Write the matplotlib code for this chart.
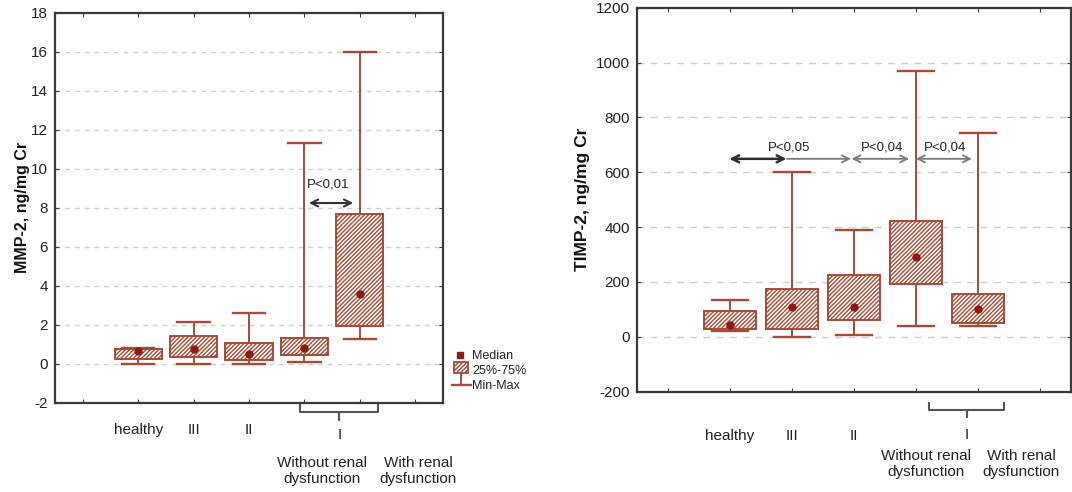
import matplotlib
matplotlib.use("Agg")
import matplotlib.pyplot as plt
from matplotlib.patches import Rectangle
from matplotlib.lines import Line2D
import matplotlib.transforms as mtransforms

plt.rcParams['font.family'] = ['Liberation Sans', 'DejaVu Sans']
plt.rcParams['hatch.linewidth'] = 1.0
plt.rcParams['axes.unicode_minus'] = False

# ---- data -------------------------------------------------------------
groups = ['healthy', 'III', 'II', 'Without renal\ndysfunction', 'With renal\ndysfunction']
tick_names = ['healthy', 'III', 'II']

mmp_min = [0.0, 0.0, 0.0, 0.08, 1.25]
mmp_q1 = [0.25, 0.35, 0.20, 0.46, 1.92]
mmp_med = [0.62, 0.75, 0.50, 0.80, 3.56]
mmp_q3 = [0.72, 1.40, 1.05, 1.30, 7.68]
mmp_max = [0.78, 2.15, 2.60, 11.30, 15.95]

timp_min = [20, 0, 5, 40, 40]
timp_q1 = [30, 27, 62, 193, 51]
timp_med = [42, 108, 109, 292, 101]
timp_q3 = [95, 176, 224, 421, 155]
timp_max = [135, 600, 389, 970, 745]

mmp_ticks = list(range(-2, 19, 2))
timp_ticks = list(range(-200, 1201, 200))

# ---- style ------------------------------------------------------------
BOX = '#a84b36'
MED = '#8e1a10'
SPINE = '#3a3a3a'
GRID = '#cfcfcf'
HATCH = '////////'
W, H = 1072, 492

fig = plt.figure(figsize=(W / 100, H / 100), dpi=100)
plt.rcParams['hatch.color'] = BOX


def px(x, y):
    """pixel position (from top-left) -> figure fraction"""
    return x / W, 1 - y / H


def draw_panel(ax, mins, q1s, meds, q3s, maxs, ylim, yticks, ylabel,
               ylabel_size, grid_dash, label_pad):
    pos = list(range(1, len(groups) + 1))
    stats = [dict(whislo=a, q1=b, med=c, q3=d, whishi=e, fliers=[])
             for a, b, c, d, e in zip(mins, q1s, meds, q3s, maxs)]
    ax.bxp(stats, positions=pos, widths=0.85, capwidths=0.58,
           patch_artist=True, showfliers=False,
           boxprops=dict(facecolor='white', edgecolor=BOX, hatch=HATCH, linewidth=1.4),
           whiskerprops=dict(color=BOX, linewidth=1.4),
           capprops=dict(color=BOX, linewidth=1.7),
           medianprops=dict(linewidth=0), zorder=3)
    ax.plot(pos, meds, linestyle='none', marker='o', markersize=5,
            color=MED, zorder=5)
    ax.set_xlim(-0.5, 6.5)
    ax.set_ylim(*ylim)
    ax.set_yticks(yticks)
    ax.set_xticks(range(0, 7))
    ax.set_xticklabels([''] + tick_names + ['', '', ''])
    ax.tick_params(axis='x', direction='in', length=3, top=True,
                   labelsize=11, pad=label_pad, colors=SPINE, labelcolor='#222222')
    ax.tick_params(axis='y', direction='in', length=3, right=True,
                   labelsize=11, pad=5, colors=SPINE, labelcolor='#222222')
    for s in ax.spines.values():
        s.set_color(SPINE)
        s.set_linewidth(1.6)
    for t in yticks[1:-1]:
        ax.axhline(t, color=GRID, linewidth=1.0, linestyle=(0, grid_dash), zorder=1)
    ax.set_ylabel(ylabel, fontsize=ylabel_size, fontweight='bold', color='#111111')
    return pos


def bracket(ax, x0, x1, xc, y_top, y_bar, y_tick, text_y, sub_xs, sub_y):
    tr = mtransforms.blended_transform_factory(ax.transData, ax.transAxes)
    ax.add_line(Line2D([x0, x0, x1, x1], [y_top, y_bar, y_bar, y_top],
                       transform=tr, color='#555555', lw=1.5, clip_on=False))
    ax.add_line(Line2D([xc, xc], [y_bar, y_tick], transform=tr,
                       color='#555555', lw=1.5, clip_on=False))
    ax.text(xc, text_y, 'I', transform=tr, ha='center', va='center',
            fontsize=11, color='#222222', clip_on=False)
    for sx, name in zip(sub_xs, groups[3:]):
        ax.text(sx, sub_y, name, transform=tr, ha='center', va='center',
                fontsize=11, color='#222222', linespacing=1.15, clip_on=False)


def arrow(ax, x0, x1, y, color, style='<->', lw=1.5):
    ax.annotate('', xy=(x1, y), xytext=(x0, y),
                arrowprops=dict(arrowstyle=style + ',head_length=0.5,head_width=0.25',
                                color=color, lw=lw, shrinkA=0, shrinkB=0),
                zorder=6)


# ---- left panel: MMP-2 -------------------------------------------------
axL = fig.add_axes([55 / W, 1 - 402.5 / H, 388 / W, 390 / H])
posL = draw_panel(axL, mmp_min, mmp_q1, mmp_med, mmp_q3, mmp_max,
                  (-2, 18), mmp_ticks, 'MMP-2, ng/mg Cr', 11.5, (3.5, 3.5), 15)
axL.yaxis.labelpad = 1
arrow(axL, posL[3] + 0.08, posL[4] - 0.12, 8.23, '#333333')
axL.text((posL[3] + posL[4]) / 2 - 0.07, 9.2, 'P<0,01', ha='center',
         va='center', fontsize=9.5, color='#222222')
bracket(axL, 3.92, 5.33, 4.63, -0.002, -0.024, -0.046, -0.083,
        [4.32, 6.05], -0.176)

# legend drawn beside the left panel
fig.add_artist(Line2D([px(460, 0)[0]], [px(0, 355)[1]], marker='s',
                      markersize=4.5, color=MED, linestyle='none'))
x0f, y0f = px(454, 373)
x1f, y1f = px(468, 362)
fig.add_artist(Rectangle((x0f, y0f), x1f - x0f, y1f - y0f, facecolor='white',
                         edgecolor=BOX, hatch=HATCH, linewidth=1.3,
                         transform=fig.transFigure))
fig.add_artist(Line2D([px(461, 0)[0]] * 2, [px(0, 373)[1], px(0, 385)[1]],
                      color=BOX, lw=1.4))
fig.add_artist(Line2D([px(452, 0)[0], px(471, 0)[0]], [px(0, 385)[1]] * 2,
                      color=BOX, lw=1.7))
for label, yy in zip(['Median', '25%-75%', 'Min-Max'], [356, 371, 386]):
    fig.text(*px(472, yy), label, fontsize=9, va='center', ha='left',
             color='#222222')

# ---- right panel: TIMP-2 ----------------------------------------------
axR = fig.add_axes([637 / W, 1 - 391.7 / H, 434 / W, 384 / H])
posR = draw_panel(axR, timp_min, timp_q1, timp_med, timp_q3, timp_max,
                  (-200, 1200), timp_ticks, 'TIMP-2, ng/mg Cr', 12.5, (5, 4.5), 27)
axR.yaxis.labelpad = 4
arrow(axR, posR[0] - 0.01, posR[1] - 0.09, 649, '#2e2e2e', lw=1.8)
arrow(axR, posR[1] - 0.08, posR[2] - 0.05, 649, '#7a7a7a', style='->', lw=1.3)
arrow(axR, posR[2] - 0.04, posR[3] - 0.11, 649, '#7a7a7a', lw=1.3)
arrow(axR, posR[3] + 0.0, posR[4] - 0.1, 649, '#7a7a7a', lw=1.3)
for xc, txt in zip([1.95, 3.46, 4.47], ['P<0,05', 'P<0,04', 'P<0,04']):
    axR.text(xc, 690, txt, ha='center', va='center', fontsize=9.5,
             color='#222222')
bracket(axR, 4.21, 5.42, 4.82, -0.029, -0.048, -0.065, -0.113,
        [4.16, 5.70], -0.188)

fig.savefig('out.png', dpi=100)
